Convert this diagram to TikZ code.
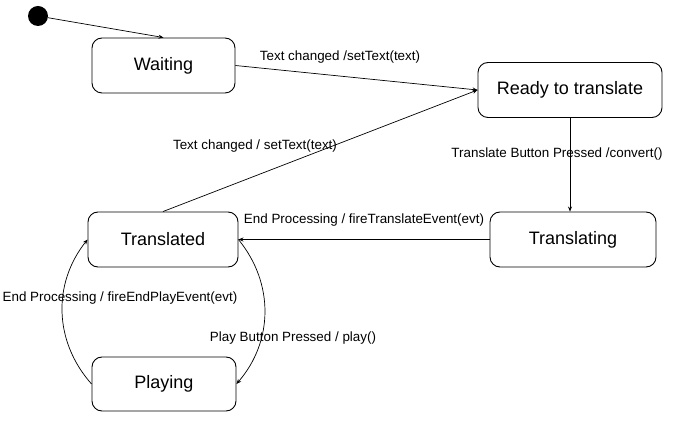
\documentclass[tikz,border=0pt]{standalone}
\usepackage{fontspec}
\setmainfont{Liberation Sans}
\usetikzlibrary{arrows.meta,positioning}
\tikzset{state/.style={draw,line width=0.9pt,rounded corners=10pt,minimum height=55pt,font=\fontsize{18}{20}\selectfont},
 lbl/.style={inner sep=0pt,font=\fontsize{13.4}{15}\selectfont},
 tr/.style={draw,line width=0.7pt,-{Stealth[length=5pt,width=4pt]}},
 start/.style={circle,fill=black,minimum size=20pt,inner sep=0pt}}

\begin{document}
\begin{tikzpicture}[x=1pt,y=-1pt]
\useasboundingbox (0,0) rectangle (674,435);
\node[start](s) at(38,16){};
\node[state,minimum width=143pt](w) at(163.5,65.5){Waiting};
\node[state,minimum width=184pt](r) at(570,90){Ready to translate};
\node[state,minimum width=166pt](tg) at(573,239.5){Translating};
\node[state,minimum width=150pt](td) at(163,239.5){Translated};
\node[state,minimum width=144pt,minimum height=54pt](p) at(164,384){Playing};
% transitions
\draw[tr](s)--(w.north);
\draw[tr](w.east)--(r.west);
\draw[tr](td.north)--(r.west);
\draw[tr](r.south)--(r.south|-tg.north);
\draw[tr](tg.west)--(td.east);
\draw[tr](td.east) to[bend left=40] (p.east);
\draw[tr](p.west) to[bend left=40] (td.west);
% labels
\node[lbl](l1) at(340,57){Text changed /setText(text)};
\node[lbl](l2) at(255,146){Text changed / setText(text)};
\node[lbl](l3) at(557,154){Translate Button Pressed /convert()};
\node[lbl](l4) at(364,220){End Processing / fireTranslateEvent(evt)};
\node[lbl](l5) at(120,298){End Processing / fireEndPlayEvent(evt)};
\node[lbl](l6) at(293,338){Play Button Pressed / play()};
\end{tikzpicture}
\end{document}
